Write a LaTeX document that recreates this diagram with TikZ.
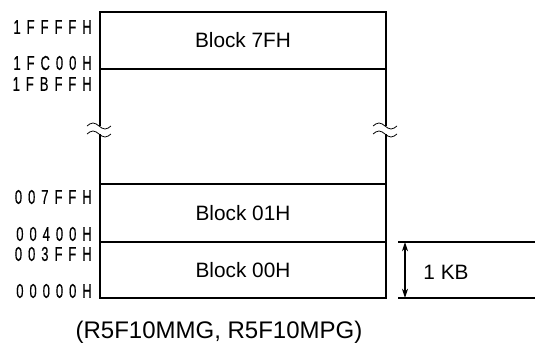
\documentclass[tikz,border=0pt]{standalone}
\usepackage{fontspec}
\setmainfont{Liberation Sans}
\newfontfamily\addrfont[LetterSpace=46, FakeBold=0.4]{Liberation Sans}
\usetikzlibrary{positioning, arrows.meta}

\tikzset{
    wall/.style={line width=1.6pt},
    divider/.style={line width=0.8pt},
    blocklabel/.style={font=\fontsize{15.6}{18}\selectfont},
    addr/.style={anchor=east, inner sep=0pt, font=\fontsize{15}{17}\selectfont},
    brk/.style={line width=0.6pt}
}
\newcommand{\addrtext}[1]{\scalebox{0.65}[1]{\addrfont #1}}

\begin{document}
\begin{tikzpicture}[x=0.75pt, y=-0.75pt]
                \useasboundingbox (0,0) rectangle (536,343);

                % CORNERS
                \coordinate (tl) at (100,12);
                \coordinate (tr) at (386,12);
                \coordinate (bl) at (100,298);
                \coordinate (br) at (386,298);

                % BOUNDARIES
                \coordinate (l7F) at (100,69);   \coordinate (r7F) at (386,69);
                \coordinate (l01) at (100,184);  \coordinate (r01) at (386,184);
                \coordinate (l00) at (100,242);  \coordinate (r00) at (386,242);

                % BREAK
                \coordinate (lbrkA) at (100,126); \coordinate (lbrkB) at (100,134);
                \coordinate (rbrkA) at (386,126); \coordinate (rbrkB) at (386,134);

                % OUTER BOX
                \draw[wall] (lbrkA) -- (tl) -- (tr) -- (rbrkA);
                \draw[wall] (lbrkB) -- (bl) -- (br) -- (rbrkB);

                % DIVIDERS
                \draw[divider] (l7F) -- (r7F);
                \draw[divider] (l01) -- (r01);
                \draw[divider] (l00) -- (r00);

                % BREAK MARKS
                \foreach \c in {lbrkA, lbrkB, rbrkA, rbrkB}
                    \draw[brk] ([xshift=-13*0.75pt]\c) sin ++(6,-3) cos ++(6,3)
                        sin ++(6,3) cos ++(6,-3);

                % BLOCKS
                \node[blocklabel] (b7F) at (243,40) {Block 7FH};
                \node[blocklabel] (b01) at (243,213) {Block 01H};
                \node[blocklabel] (b00) at (243,270) {Block 00H};

                % ADDRESSES
                \node[addr] (a1FFFF) at (92,27)  {\addrtext{1FFFFH}};
                \node[addr] (a1FC00) at (92,63)  {\addrtext{1FC00H}};
                \node[addr] (a1FBFF) at (92,84)  {\addrtext{1FBFFH}};
                \node[addr] (a007FF) at (92,197) {\addrtext{007FFH}};
                \node[addr] (a00400) at (92,234) {\addrtext{00400H}};
                \node[addr] (a003FF) at (92,254) {\addrtext{003FFH}};
                \node[addr] (a00000) at (92,291) {\addrtext{00000H}};

                % SIZE
                \coordinate (sztopL) at (398,242); \coordinate (sztopR) at (535,242);
                \coordinate (szbotL) at (398,298); \coordinate (szbotR) at (535,298);
                \draw[divider] (sztopL) -- (sztopR);
                \draw[divider] (szbotL) -- (szbotR);
                \draw[divider, {Stealth[length=7pt, width=4.5pt]}-{Stealth[length=7pt, width=4.5pt]}]
                    ([xshift=7*0.75pt]sztopL) -- ([xshift=7*0.75pt]szbotL);
                \node[blocklabel] (kb) at (446,272) {1 KB};

                % CAPTION
                \node[font=\fontsize{18}{21}\selectfont] (cap) at (219,332) {(R5F10MMG, R5F10MPG)};

            \end{tikzpicture}
\end{document}
